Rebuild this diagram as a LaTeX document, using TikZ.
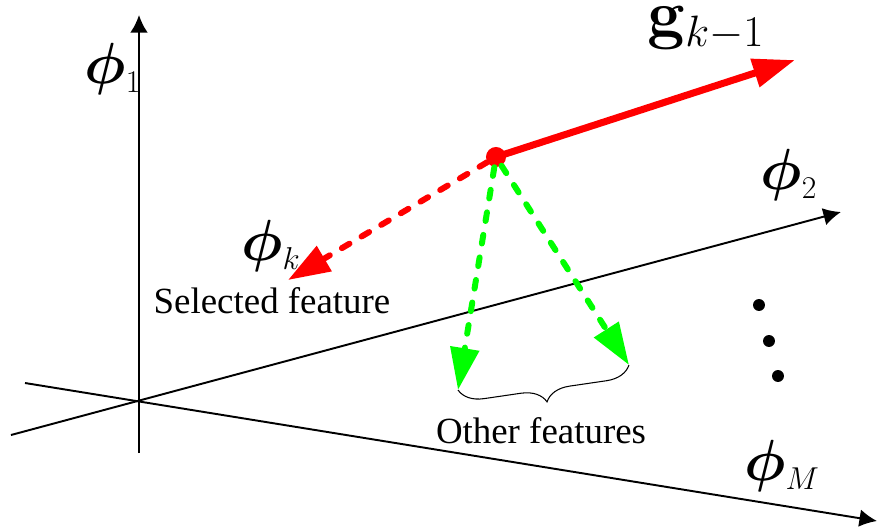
\RequirePackage{fix-cm}
\documentclass[tikz,border=0pt]{standalone}
\usepackage[no-math]{fontspec}
\setmainfont{Liberation Serif}
\usepackage{amsmath}
\usepackage{bm}
\DeclareMathSizes{33}{33}{18}{13}
\DeclareMathSizes{38}{38}{25}{18}
\usepackage{tikz}
\usetikzlibrary{arrows.meta, decorations.pathreplacing}

\begin{document}
\begin{tikzpicture}[x=0.02cm, y=-0.02cm,
  axis/.style={line width=1.1pt, -{Latex[length=10pt, width=10pt]}},
  bigtip/.style={-{Triangle[length=24pt, width=16pt]}},
  grad/.style={bigtip, red, line width=4pt},
  dashline/.style={bigtip, line width=3.4pt, line cap=round, dash pattern=on 5pt off 8pt},
  philbl/.style={inner sep=0pt, font=\fontsize{33}{40}\selectfont},
  txt/.style={inner sep=0pt, anchor=base, font=\fontsize{21}{25}\selectfont}]
  \useasboundingbox (0,0) rectangle (878,531);
  % axes
  \coordinate (ax1s) at (139,453);
  \coordinate (ax1e) at (139,15);
  \coordinate (ax2s) at (11,435);
  \coordinate (ax2e) at (841,212);
  \coordinate (axMs) at (25,383);
  \coordinate (axMe) at (877,521);
  \draw[axis] (ax1s) -- (ax1e);
  \draw[axis] (ax2s) -- (ax2e);
  \draw[axis] (axMs) -- (axMe);

  \node[circle, fill=red, inner sep=0pt, minimum size=11.4pt] (dot) at (496,157) {};
  \coordinate (gtip) at (795,60);
  \coordinate (ktip) at (288,280);
  \coordinate (ltip) at (458,390);
  \coordinate (rtip) at (629,365);
  \draw[grad] (dot.center) -- (gtip);
  \draw[dashline, red] (dot) -- (ktip);
  \draw[dashline, green] (dot) -- (ltip);
  \draw[dashline, green] (dot) -- (rtip);
  \draw[decorate, decoration={brace, mirror, amplitude=14pt}, line width=0.6pt] (ltip) -- (rtip);

  % labels
  \node[philbl] (phi1) at (113,69) {$\bm{\phi}_1$};
  \node[philbl] (phi2) at (789,175) {$\bm{\phi}_2$};
  \node[philbl] (phiM) at (782,466) {$\bm{\phi}_M$};
  \node[philbl] (phik) at (271,246) {$\bm{\phi}_k$};
  \node[inner sep=0pt, font=\fontsize{38}{45}\selectfont] (glbl) at (706,28) {$\mathbf{g}_{k-1}$};
  \node[txt] (sel) at (272,313) {Selected feature};
  \node[txt] (oth) at (541,443) {Other features};

  \fill (759,305) circle (3.4pt);
  \fill (769,341) circle (3.4pt);
  \fill (778,376) circle (3.4pt);
\end{tikzpicture}
\end{document}
